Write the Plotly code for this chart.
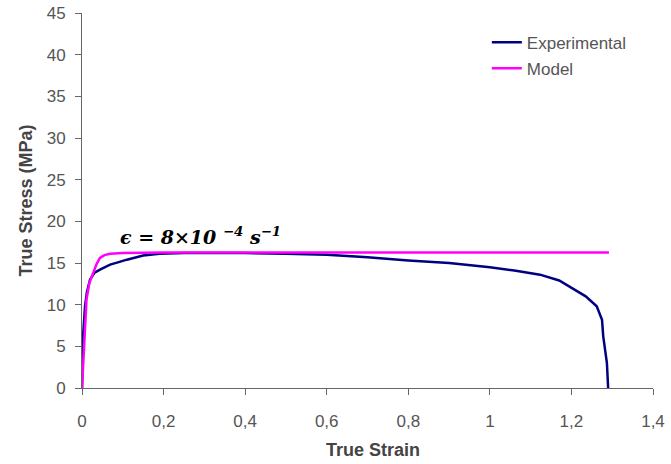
import plotly.graph_objects as go

# True stress-strain data (strain rate 8e-4 1/s)
exp_strain = [0.0, 0.003, 0.0074, 0.012, 0.0196, 0.03, 0.044, 0.069, 0.09, 0.11, 0.15, 0.19, 0.25,
              0.4, 0.5, 0.6, 0.7, 0.8, 0.9, 1.0, 1.06, 1.123, 1.17, 1.204, 1.235, 1.262,
              1.275, 1.278, 1.283, 1.287, 1.29]
exp_stress = [0.0, 6.5, 9.8, 11.5, 13.0, 13.8, 14.2, 14.8, 15.1, 15.4, 15.9, 16.1, 16.2,
              16.2, 16.1, 16.0, 15.7, 15.3, 15.0, 14.5, 14.1, 13.6, 12.9, 11.9, 11.0, 9.8,
              8.2, 6.2, 4.5, 3.0, 0.0]

model_strain = [0.0, 0.004, 0.007, 0.011, 0.018, 0.028, 0.036, 0.044, 0.055, 0.069, 0.1, 0.2, 1.292]
model_stress = [0.0, 4.0, 7.0, 10.6, 12.6, 13.8, 14.9, 15.6, 15.95, 16.1, 16.2, 16.25, 16.25]

x_ticks = [0, 0.2, 0.4, 0.6, 0.8, 1.0, 1.2, 1.4]
x_tick_labels = ["0", "0,2", "0,4", "0,6", "0,8", "1", "1,2", "1,4"]
y_ticks = [0, 5, 10, 15, 20, 25, 30, 35, 40, 45]

fig = go.Figure()
fig.add_trace(go.Scatter(x=exp_strain, y=exp_stress, mode="lines", name="Experimental",
                         legendgroup="exp", line=dict(color="#000080", width=2.5)))
fig.add_trace(go.Scatter(x=model_strain, y=model_stress, mode="lines", name="Model",
                         legendgroup="mod", line=dict(color="#FF00FF", width=2.5)))

# strain-rate label
fig.add_annotation(x=0.088, y=18.3, xref="x", yref="y", xanchor="left", yanchor="middle",
                   text="<b><i>ϵ = 8×10 <sup>−4</sup> s<sup>−1</sup></i></b>",
                   showarrow=False,
                   font=dict(family="DejaVu Serif", size=19, color="#000000"))

title_font = dict(family="Liberation Sans, Arial", size=18, color="#444444")
# axis titles
fig.add_annotation(x=-0.0998, y=0.5, xref="paper", yref="paper", xanchor="center",
                   yanchor="middle", textangle=-90, showarrow=False,
                   text="<b>True Stress (MPa)</b>", font=title_font)
fig.add_annotation(x=0.5096, y=-0.1653, xref="paper", yref="paper", xanchor="center",
                   yanchor="middle", showarrow=False,
                   text="<b>True Strain</b>", font=title_font)

axis_font = dict(family="Liberation Sans, Arial", size=17, color="#555555")
fig.update_layout(
    width=671, height=464,
    margin=dict(l=82, r=18, t=13, b=76),
    paper_bgcolor="white", plot_bgcolor="white",
    font=dict(family="Liberation Sans, Arial", color="#444444"),
    showlegend=True,
    legend=dict(x=0.709, y=0.969, xanchor="left", yanchor="top",
                bgcolor="rgba(0,0,0,0)", font=dict(size=17, color="#555555"),
                itemwidth=30, traceorder="grouped", tracegroupgap=1),
    xaxis=dict(range=[0, 1.4], tickvals=x_ticks, ticktext=x_tick_labels,
               showgrid=False, zeroline=False, showline=True, linecolor="#666666",
               linewidth=1, ticks="outside", ticklen=6, tickcolor="#666666",
               tickfont=axis_font, ticklabelstandoff=12, automargin=False),
    yaxis=dict(range=[0, 45], tickvals=y_ticks, showgrid=False, zeroline=False,
               showline=True, linecolor="#666666", linewidth=1, ticks="outside",
               ticklen=6, tickcolor="#666666", tickfont=axis_font,
               ticklabelstandoff=6, automargin=False),
)

fig.write_html("out.html")
